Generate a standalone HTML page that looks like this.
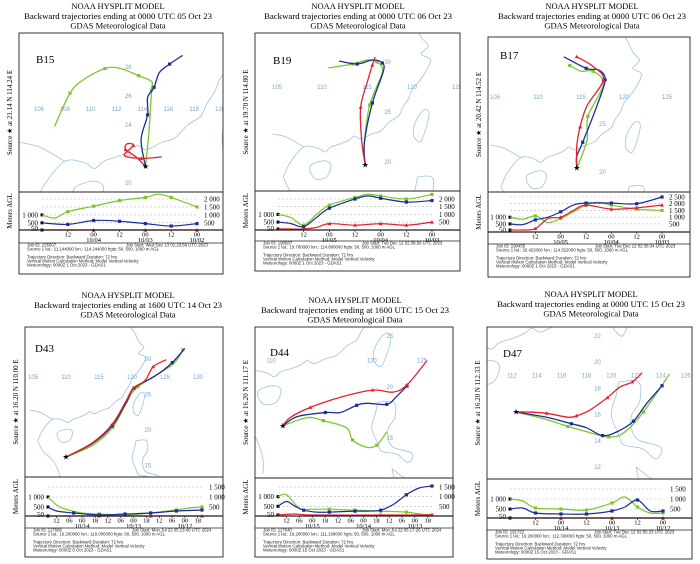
<!DOCTYPE html>
<html><head><meta charset="utf-8">
<style>
html,body{margin:0;padding:0;background:#fff;}
svg{display:block;}
text{font-family:"Liberation Serif",serif;}
.sans{font-family:"Liberation Sans",sans-serif;}
</style></head>
<body>
<svg id="chart" width="700" height="564" viewBox="0 0 700 564" xmlns="http://www.w3.org/2000/svg"></svg>
<script>
// ===== Data (lon/lat trajectories and height time-series [hour, metres AGL]) =====
const b15Green = [[114.24,21.14],[114.5,23.5],[114.7,26.4],[114.7,27.0],[113.7,27.4],[112.3,27.9],[111.1,27.9],[109.4,27.1],[108.4,26.2],[107.2,23.9]];
const b15Blue  = [[114.24,21.14],[113.9,23.0],[114.4,24.7],[114.4,25.9],[114.9,26.6],[115.3,27.6],[116.1,28.2],[117.1,28.8]];
const b15Red   = [[114.24,21.14],[113.5,21.8],[112.7,22.3],[112.8,22.7],[113.3,22.6],[112.6,21.9],[113.9,21.7],[115.5,21.8]];
const b15GreenH = [[0,1000],[6,800],[12,1200],[24,1550],[36,1900],[48,2100],[54,2300],[60,2100],[72,1500]];
const b15BlueH  = [[0,500],[12,400],[24,650],[36,600],[48,450],[60,300],[72,450]];
const b15RedH   = [[0,50],[24,50],[48,50],[72,50]];

const b19Green = [[114.8,19.7],[114.7,21.8],[115.3,25.7],[116.7,29.0],[116.1,30.0],[115.0,30.2],[113.4,29.8],[110.7,29.4]];
const b19Blue  = [[114.8,19.7],[114.7,21.9],[115.6,25.9],[116.8,29.0],[116.7,29.9],[115.6,30.2],[113.9,29.8],[111.9,30.1]];
const b19Red   = [[114.8,19.7],[114.4,22.2],[114.3,25.5],[115.1,28.2],[115.6,29.7],[115.9,30.5]];
const b19GreenH = [[0,1000],[6,800],[12,300],[18,1000],[24,1600],[36,2100],[42,2300],[48,2200],[60,2000],[72,2300]];
const b19BlueH  = [[0,500],[6,400],[12,200],[18,800],[24,1400],[36,2000],[42,2200],[48,2050],[60,1800],[72,1900]];
const b19RedH   = [[0,50],[6,50],[12,50],[18,150],[24,400],[36,300],[48,400],[60,300],[72,500]];

const b17Blue  = [[114.52,20.42],[114.5,21.6],[115.2,23.1],[116.9,27.0],[117.8,29.6],[117.1,30.6],[115.6,30.8],[113.0,32.0]];
const b17Green = [[114.52,20.42],[115.7,23.3],[115.8,25.8],[117.6,29.1],[116.4,30.5],[115.0,30.5],[113.7,31.1]];
const b17Red   = [[114.52,20.42],[114.5,22.6],[114.9,24.7],[115.7,26.9],[117.6,29.6],[116.4,31.0],[114.5,32.0]];
const b17BlueH  = [[0,500],[6,450],[12,800],[18,1000],[24,1400],[30,1900],[36,2050],[48,2050],[60,2000],[72,2500]];
const b17GreenH = [[0,1000],[6,850],[12,1100],[18,600],[24,900],[30,1400],[36,1900],[42,2100],[48,1900],[60,1600],[72,1500]];
const b17RedH   = [[0,50],[6,50],[12,150],[18,900],[24,1000],[30,1500],[36,1900],[48,1600],[60,1700],[72,1900]];

const d43Green = [[110.0,16.2],[114.1,17.9],[117.1,20.4],[119.1,23.7],[120.9,26.1],[126.1,29.2],[127.7,31.3]];
const d43Blue  = [[110.0,16.2],[114.0,18.1],[117.0,20.6],[119.2,24.0],[120.3,25.9],[123.5,27.6],[126.1,29.5],[128.0,31.5]];
const d43Red   = [[110.0,16.2],[114.0,18.2],[117.0,20.8],[119.1,24.1],[120.2,25.9],[122.0,27.0],[123.2,28.9],[125.2,29.9]];
const d43GreenH = [[0,1000],[4,600],[8,400],[16,200],[24,150],[36,100],[48,200],[60,350],[66,450],[72,500]];
const d43BlueH  = [[0,500],[4,300],[12,200],[24,100],[36,150],[48,200],[60,300],[72,350]];
const d43RedH   = [[0,50],[24,50],[48,50],[72,50]];

const d44Red   = [[111.17,16.2],[111.9,17.0],[113.9,18.0],[116.9,19.0],[120.1,19.7],[122.1,19.5],[123.5,20.2],[125.5,22.6]];
const d44Blue  = [[111.17,16.2],[112.6,17.1],[115.4,17.5],[116.9,17.5],[118.5,18.2],[119.5,18.4],[121.5,18.3],[122.4,19.0],[123.5,20.1]];
const d44Green = [[111.17,16.2],[113.6,17.0],[115.2,16.7],[117.5,16.0],[118.1,14.8],[119.5,14.1],[120.5,14.3],[121.5,15.6]];
const d44BlueH  = [[0,500],[4,750],[8,500],[12,300],[18,200],[24,200],[36,250],[42,250],[48,300],[54,600],[60,1100],[66,1450],[72,1550]];
const d44GreenH = [[0,1000],[4,1100],[10,400],[16,350],[24,350],[36,300],[48,250],[60,200],[66,100],[72,50]];
const d44RedH   = [[0,50],[8,100],[16,50],[48,50],[72,50]];

const d47Red   = [[112.33,16.2],[113.2,16.2],[114.8,16.1],[116.5,15.8],[117.2,15.9],[118.2,16.3],[119.7,17.3],[120.7,18.1],[121.7,18.5],[122.5,19.2]];
const d47Blue  = [[112.33,16.2],[114.8,15.8],[116.8,15.3],[118.0,15.0],[119.3,14.4],[120.5,14.7],[121.8,15.5],[122.9,16.9],[124.1,18.2]];
const d47Green = [[112.33,16.2],[114.5,15.7],[116.5,15.1],[118.0,14.7],[119.8,14.3],[121.0,14.6],[122.6,16.2],[124.7,19.1]];
const d47GreenH = [[0,1000],[6,900],[12,550],[24,500],[36,450],[48,800],[54,1100],[60,600],[66,300],[72,300]];
const d47BlueH  = [[0,500],[6,550],[12,300],[24,250],[36,250],[48,400],[54,600],[60,950],[66,400],[72,400]];
const d47RedH   = [[0,50],[24,50],[48,50],[72,50]];

// Tick labels
const ticksB15 = [[12,'12',''],[24,'00','10/04'],[36,'12',''],[48,'00','10/03'],[60,'12',''],[72,'00','10/02']];
const ticksB19 = [[12,'12',''],[24,'00','10/05'],[36,'12',''],[48,'00','10/04'],[60,'12',''],[72,'00','10/03']];
const ticksD43 = [[4,'12',''],[10,'06',''],[16,'00','10/14'],[22,'18',''],[28,'12',''],[34,'06',''],[40,'00','10/13'],[46,'18',''],[52,'12',''],[58,'06',''],[64,'00','10/12'],[70,'18','']];
const ticksD44 = [[4,'12',''],[10,'06',''],[16,'00','10/15'],[22,'18',''],[28,'12',''],[34,'06',''],[40,'00','10/14'],[46,'18',''],[52,'12',''],[58,'06',''],[64,'00','10/13'],[70,'18','']];
const ticksD47 = [[12,'12',''],[24,'00','10/14'],[36,'12',''],[48,'00','10/13'],[60,'12',''],[72,'00','10/12']];
const rightLevelsA = [2000,1500,1000,500];
const rightLevelsB = [2500,2000,1500,1000,500];
const rightLevelsC = [1500,1000,500];
const leftLevels = [1000,500,50];

// Rough background coastlines (lon/lat)
const coastChina = [[105.7,18.5],[106.5,20],[108,21.5],[109.5,21.4],[110.3,21],[111,21.5],[112,21.8],[113,22.2],[113.6,22.6],[114.3,22.3],[115.5,22.8],[116.5,23.1],[117.5,24],[118.5,24.6],[119,25.5],[119.6,26.3],[120,27.2],[121,28.3],[121.8,29.5],[122,30.3],[121,30.8],[121.8,31.6],[121,32.5],[120.5,33.5],[119.5,35],[120.3,36]];
const coastVietnam = [[105.7,18.5],[106.5,17],[107.5,16.2],[108.5,15],[109.2,13],[109.2,11.5]];
const coastHainan = [[108.7,19],[109.3,18.3],[110.5,18.5],[111,19.6],[110.5,20.1],[109.5,20],[108.7,19.6],[108.7,19]];
const coastTaiwan = [[120.2,22.5],[120.9,22],[121.5,23.2],[121.9,24.8],[121.5,25.3],[120.8,24.7],[120.2,23.5],[120.2,22.5]];
const coastLuzon = [[120.6,18.5],[122.2,18.5],[122.3,17],[121.6,15.8],[122,14.2],[124,13.5],[123.6,12.6],[122.5,13.4],[121,13.7],[120.6,14.5],[120,16],[120.4,17.5],[120.6,18.5]];
const coastVisayas = [[122,12],[123.5,11],[125,11],[125.5,9.5],[124,9.8],[122.5,10.5],[122,12]];
const landBorder = [[104.5,22.8],[106,22.5],[107.8,21.6],[108,21.5]];

const NS = 'http://www.w3.org/2000/svg';
const svg = document.getElementById('chart');
const C = {green:'#7cc62a', blue:'#1c2c9c', red:'#e3212b', coast:'#9fc3de', grid:'#b8b8b8', label:'#7aa6c8'};

function el(tag, attrs, parent){
  const e = document.createElementNS(NS, tag);
  for (const k in attrs) e.setAttribute(k, attrs[k]);
  (parent||svg).appendChild(e);
  return e;
}
function txt(s, attrs, parent){ const t = el('text', attrs, parent); t.textContent = s; return t; }
function smooth(pts){
  let d = `M${pts[0][0].toFixed(1)},${pts[0][1].toFixed(1)}`;
  for (let i=0;i<pts.length-1;i++){
    const p0=pts[i-1]||pts[i], p1=pts[i], p2=pts[i+1], p3=pts[i+2]||pts[i+1];
    const c1=[p1[0]+(p2[0]-p0[0])/6, p1[1]+(p2[1]-p0[1])/6];
    const c2=[p2[0]-(p3[0]-p1[0])/6, p2[1]-(p3[1]-p1[1])/6];
    d += ` C${c1[0].toFixed(1)},${c1[1].toFixed(1)} ${c2[0].toFixed(1)},${c2[1].toFixed(1)} ${p2[0].toFixed(1)},${p2[1].toFixed(1)}`;
  }
  return d;
}
function marker(g, x, y, color, kind, name){
  let m;
  if (kind==='tri') m = el('polygon',{points:`${x},${y-2} ${x-2},${y+1.5} ${x+2},${y+1.5}`,fill:color},g);
  else m = el('rect',{x:x-1.6,y:y-1.6,width:3.2,height:3.2,fill:color},g);
  
  
}

function drawPanel(P){
  const g = el('g',{});
  
  
  const cx = P.tcx;
  // titles
  const t1 = txt('NOAA HYSPLIT MODEL',{x:cx,y:P.ty,'text-anchor':'middle','font-size':'8.5'},g);
   
  const t2 = txt(P.title2,{x:cx,y:P.ty+10,'text-anchor':'middle','font-size':'8.5',textLength:'188',lengthAdjust:'spacingAndGlyphs'},g);
   
  const t3 = txt('GDAS Meteorological Data',{x:cx,y:P.ty+19.5,'text-anchor':'middle','font-size':'8.5'},g);
   

  const L=P.box[0], R=P.box[1], yT=P.box[2], yM=P.box[3], yH=P.box[4], yA=P.box[5], yI=P.box[6];
  const mx = lon => P.proj[1] + (lon-P.proj[0])*P.proj[2];
  const my = lat => P.proj[4] + (P.proj[3]-lat)*P.proj[5];

  // map clip
  const cid = 'clip'+P.id;
  const cp = el('clipPath',{id:cid},g);
  el('rect',{x:L,y:yT,width:R-L,height:yM-yT},cp);
  const mg = el('g',{'clip-path':`url(#${cid})`},g);
   
  [coastChina,coastVietnam,coastHainan,coastTaiwan,coastLuzon,coastVisayas,landBorder].forEach((c,i)=>{
    const p = el('path',{d:smooth(c.map(q=>[mx(q[0]),my(q[1])])),fill:'none',stroke:C.coast,'stroke-width':'0.8'},mg);
     
  });
  // grid labels
  P.lonLabels.forEach(v=>{
    const t = txt(String(v),{x:mx(v),y:my(P.lonRow)+2,'text-anchor':'middle','font-size':'6',fill:C.label,class:'sans'},mg);
     
  });
  P.latLabels.forEach(v=>{
    const t = txt(String(v),{x:mx(P.latCol),y:my(v)+2,'text-anchor':'middle','font-size':'6',fill:C.label,class:'sans'},mg);
     
  });
  // trajectories
  P.traj.forEach(([data,color,kind,name])=>{
    const pts = data.map(q=>[mx(q[0]),my(q[1])]);
    const p = el('path',{d:smooth(pts),fill:'none',stroke:color,'stroke-width':'1.3'},mg);
     
    pts.forEach((q,i)=>{ if(i>0 && i%2===0) marker(mg,q[0],q[1],color,kind,name+'-trajectory-marker'); });
  });
  const s0 = P.traj[0][0][0];
  const star = txt('★',{x:mx(s0[0]),y:my(s0[1])+2.5,'text-anchor':'middle','font-size':'8',fill:'#000',class:'sans'},mg);
   
  const idl = txt(P.id,{x:P.idPos[0],y:P.idPos[1],'font-size':'11'},g);
   

  // source label (rotated)
  const sy = (yT+yM)/2, sx = L-7;
  const sl = txt(`Source ★ at  ${P.src}`,{x:sx,y:sy,'text-anchor':'middle','font-size':'7',transform:`rotate(-90 ${sx} ${sy})`},g);
   

  // height panel
  const hx = h => P.hx[0] + h*(P.hx[1]-P.hx[0])/72;
  const hy = m => P.hy[1] + (m-50)*(P.hy[3]-P.hy[1])/(P.hy[2]-50);
  P.levels.forEach(v=>{
    const ln = el('line',{x1:hx(0),x2:hx(72),y1:hy(v),y2:hy(v),stroke:C.grid,'stroke-width':'0.6','stroke-dasharray':'2,2'},g);
     
    const t = txt(v>=1000?String(v).replace(/(\d)(\d{3})$/,'$1 $2'):String(v),{x:hx(72)+7,y:hy(v)+2.5,'font-size':'7'},g);
     
  });
  leftLevels.forEach(v=>{
    const t = txt(v>=1000?'1 000':String(v),{x:hx(0)-4,y:Math.min(hy(v)+2.5,yH+1),'text-anchor':'end','font-size':'7'},g);
     
    const d = el('rect',{x:hx(0)-1.5,y:hy(v)-1.5,width:3,height:3,fill:'#000'},g);
     
  });
  const hyMid=(yM+yH)/2, hxL=L-7;
  const ma = txt('Meters AGL',{x:hxL,y:hyMid,'text-anchor':'middle','font-size':'7',transform:`rotate(-90 ${hxL} ${hyMid})`},g);
   
  P.heights.forEach(([data,color,kind,name])=>{
    const pts = data.map(q=>[hx(q[0]),Math.max(hy(q[1]),yM+1)]);
    const p = el('path',{d:smooth(pts),fill:'none',stroke:color,'stroke-width':'1.2'},g);
     
    pts.forEach((q,i)=>{ if(i>0 && data[i][0]%12===0) marker(g,q[0],q[1],color,kind,name+'-height-marker'); });
  });
  // time axis
  P.ticks.forEach(([h,l,d])=>{
    const x = hx(h);
    const tk = el('line',{x1:x,x2:x,y1:yH,y2:yH+2,stroke:'#000','stroke-width':'0.6'},g);
     
    const t = txt(l,{x:x,y:yH+6.5,'text-anchor':'middle','font-size':'6.5'},g);
     
    if (d){ const t2 = txt(d,{x:x,y:yH+12,'text-anchor':'middle','font-size':'6.5'},g);
        }
  });
  // frame
  const fr = el('rect',{x:L,y:yT,width:R-L,height:yI-yT,fill:'none',stroke:'#222','stroke-width':'0.9'},g);
   
  [[yM,0.9],[yH,1.3],[yA,0.8]].forEach(([y,w])=>{
    const ln = el('line',{x1:L,x2:R,y1:y,y2:y,stroke:'#222','stroke-width':w},g);
     
  });
  // info text
  const lines = P.info;
  const ys = [yA+3.5, yA+7.5, yA+15.5, yA+19.5, yA+23.5];
  lines.forEach((s,i)=>{
    const t = txt(s,{x:L+8,y:ys[i],'font-size':'4.3',class:'sans',fill:'#222'},g);
     
  });
  const js = txt(P.jobStart,{x:L+107,y:ys[0],'font-size':'4.3',class:'sans',fill:'#222'},g);
   
}

function info(job, lat, lon, met){
  return [`Job ID: ${job}`, `Source 1 lat.: ${lat}  lon.: ${lon}  hgts: 50, 500, 1000 m AGL`,
    'Trajectory Direction: Backward      Duration: 72 hrs',
    'Vertical Motion Calculation Method:        Model Vertical Velocity',
    `Meteorology: ${met}`];
}

const panels = [
 {id:'B15',tcx:118,ty:9,title2:'Backward trajectories ending at 0000 UTC 05 Oct 23',box:[19,223,33,192,230,243,274],
  proj:[106,39,12.93,28,67,14.5],lonLabels:[106,108,110,112,114,116,118,120],lonRow:25.1,latLabels:[20,22,24,26,28],latCol:112.9,
  idPos:[36,63],src:'21.14 N  114.24 E',
  traj:[[b15Green,C.green,'sq','green'],[b15Blue,C.blue,'sq','blue'],[b15Red,C.red,'tri','red']],
  hx:[42,197],hy:[0,230,2000,199],levels:rightLevelsA,
  heights:[[b15GreenH,C.green,'sq','green'],[b15BlueH,C.blue,'sq','blue'],[b15RedH,C.red,'tri','red']],
  ticks:ticksB15,info:info('155567','21.144000','114.244000','0000Z 1 Oct 2023 - GDAS1'),jobStart:'Job Start: Wed Dec 13 01:23:58 UTC 2023'},
 {id:'B19',tcx:358,ty:9,title2:'Backward trajectories ending at 0000 UTC 06 Oct 23',box:[255,460,33,191,230,241,271],
  proj:[105,277,9,30,62,10],lonLabels:[105,110,115,120,125],lonRow:27.5,latLabels:[20,25,30],latCol:117.3,
  idPos:[273,64],src:'19.70 N  114.80 E',
  traj:[[b19Green,C.green,'sq','green'],[b19Blue,C.blue,'sq','blue'],[b19Red,C.red,'tri','red']],
  hx:[278,432],hy:[0,229,2000,199],levels:rightLevelsA,
  heights:[[b19GreenH,C.green,'sq','green'],[b19BlueH,C.blue,'sq','blue'],[b19RedH,C.red,'tri','red']],
  ticks:ticksB19,info:info('190587','19.700000','114.800000','0000Z 1 Oct 2023 - GDAS1'),jobStart:'Job Start: Tue Dec 12 02:38:56 UTC 2023'},
 {id:'B17',tcx:592,ty:9,title2:'Backward trajectories ending at 0000 UTC 06 Oct 23',box:[488,690,37,192,232,244,277],
  proj:[105,495,8.6,25,124,9.6],lonLabels:[105,110,115,120,125],lonRow:27.8,latLabels:[20,25],latCol:117.5,
  idPos:[500,59],src:'20.42 N  114.52 E',
  traj:[[b17Green,C.green,'sq','green'],[b17Blue,C.blue,'sq','blue'],[b17Red,C.red,'tri','red']],
  hx:[510,662],hy:[0,230,2500,197],levels:rightLevelsB,
  heights:[[b17GreenH,C.green,'sq','green'],[b17BlueH,C.blue,'sq','blue'],[b17RedH,C.red,'tri','red']],
  ticks:ticksB19,info:info('190455','20.422000','114.522000','0000Z 1 Oct 2023 - GDAS1'),jobStart:'Job Start: Tue Dec 12 02:36:34 UTC 2023'},
 {id:'D43',tcx:128,ty:298,title2:'Backward trajectories ending at 1600 UTC 14 Oct 23',box:[25,223,327,477,516,528,557],
  proj:[105,33,6.6,30,359,7.1],lonLabels:[105,110,115,120,125,130],lonRow:27.5,latLabels:[15,20,25,30],latCol:122.4,
  idPos:[35,352],src:'16.20 N  110.00 E',
  traj:[[d43Green,C.green,'sq','green'],[d43Blue,C.blue,'sq','blue'],[d43Red,C.red,'tri','red']],
  hx:[48,202],hy:[0,516,1500,487],levels:rightLevelsC,
  heights:[[d43GreenH,C.green,'sq','green'],[d43BlueH,C.blue,'sq','blue'],[d43RedH,C.red,'tri','red']],
  ticks:ticksD43,info:info('117608','16.200000','110.000000','0000Z 8 Oct 2023 - GDAS1'),jobStart:'Job Start: Mon Jul 22 05:13:40 UTC 2024'},
 {id:'D44',tcx:355,ty:303,title2:'Backward trajectories ending at 1600 UTC 15 Oct 23',box:[255,453,327,478,516,528,557],
  proj:[110,271,10.07,25,336,10.2],lonLabels:[110,120,125],lonRow:22.6,latLabels:[15,20,25],latCol:121.8,
  idPos:[270,356],src:'16.20 N  111.17 E',
  traj:[[d44Green,C.green,'sq','green'],[d44Blue,C.blue,'sq','blue'],[d44Red,C.red,'tri','red']],
  hx:[278,432],hy:[0,515,1500,487],levels:rightLevelsC,
  heights:[[d44GreenH,C.green,'sq','green'],[d44BlueH,C.blue,'sq','blue'],[d44RedH,C.red,'tri','red']],
  ticks:ticksD44,info:info('117640','16.200000','111.168000','0000Z 15 Oct 2023 - GDAS1'),jobStart:'Job Start: Mon Jul 22 05:17:26 UTC 2024'},
 {id:'D47',tcx:591,ty:297,title2:'Backward trajectories ending at 0000 UTC 15 Oct 23',box:[487,692,327,479,518,530,559],
  proj:[112,512,12.4,22,336,13.1],lonLabels:[112,114,116,118,120,122,124,126],lonRow:19,latLabels:[12,14,16,18,20,22],latCol:118.9,
  idPos:[503,357],src:'16.20 N  112.33 E',
  traj:[[d47Green,C.green,'sq','green'],[d47Blue,C.blue,'sq','blue'],[d47Red,C.red,'tri','red']],
  hx:[510,663],hy:[0,518,1500,489],levels:rightLevelsC,
  heights:[[d47GreenH,C.green,'sq','green'],[d47BlueH,C.blue,'sq','blue'],[d47RedH,C.red,'tri','red']],
  ticks:ticksD47,info:info('191722','16.200000','112.330000','0000Z 15 Oct 2023 - GDAS1'),jobStart:'Job Start: Tue Dec 12 02:55:33 UTC 2023'}
];
panels.forEach(drawPanel);
</script>
</body></html>
